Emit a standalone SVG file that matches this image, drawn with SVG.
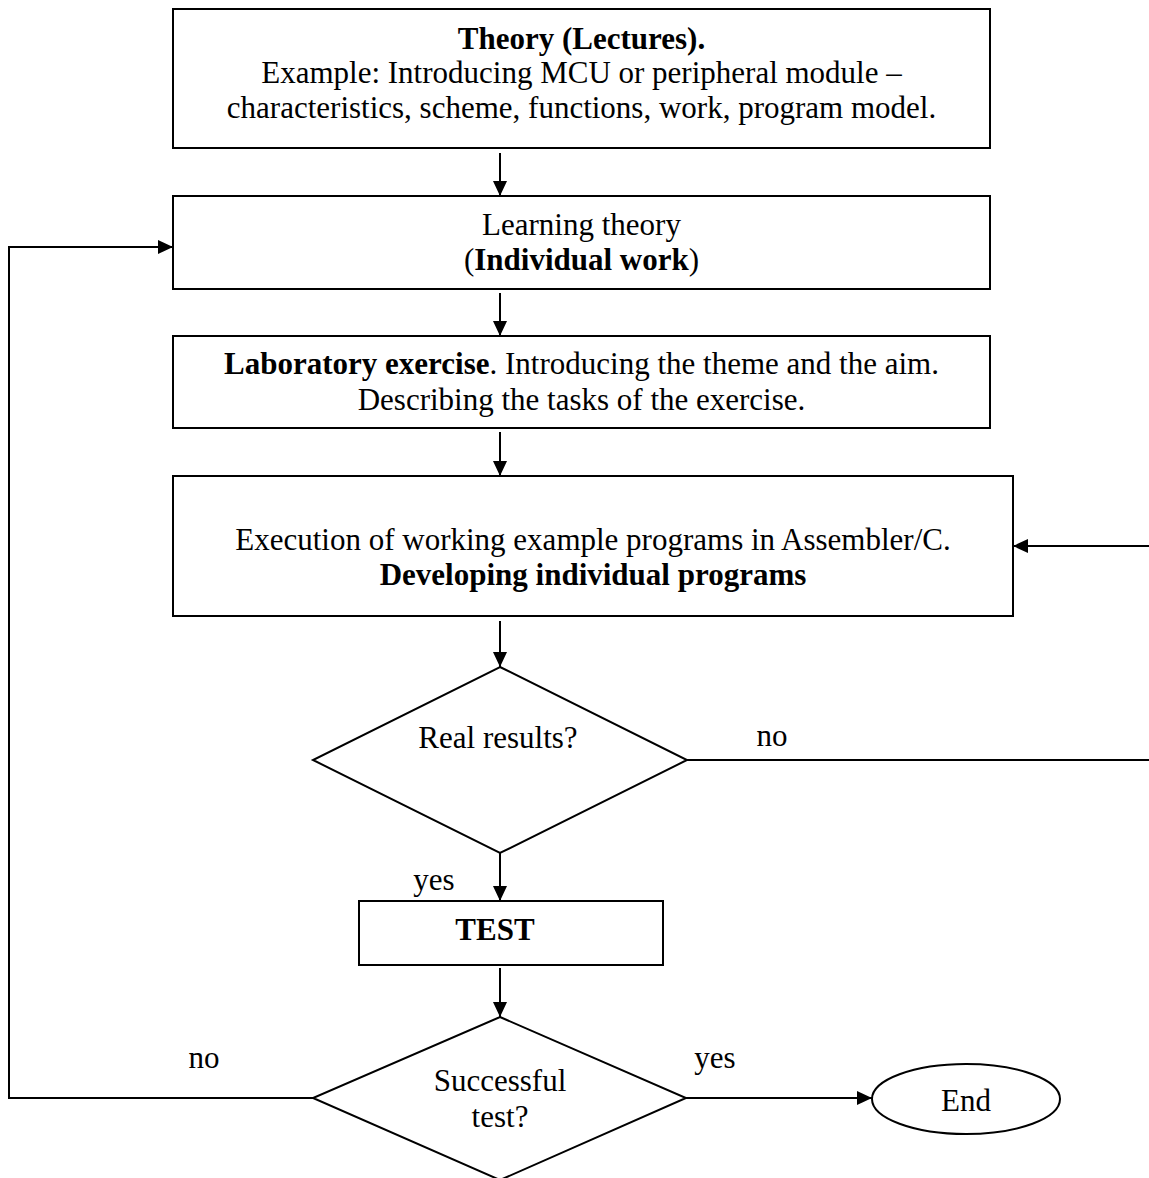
<svg xmlns="http://www.w3.org/2000/svg" width="1149" height="1178" viewBox="0 0 1149 1178">
<style>
.box{fill:#fff;stroke:#000;stroke-width:2}
.t{font-family:"Liberation Serif","Times New Roman",serif;font-size:31px;fill:#000;text-anchor:middle}
.b{font-weight:bold}
.c{fill:none;stroke:#000;stroke-width:2}
</style>
<defs>
<marker id="ah" markerUnits="userSpaceOnUse" markerWidth="15" markerHeight="14" refX="15" refY="7" orient="auto">
<path d="M0,0 L15,7 L0,14 z" fill="#000"/>
</marker>
</defs>
<rect width="1149" height="1178" fill="#fff"/>
<g id="connectors">
<line class="c" x1="500" y1="153" x2="500" y2="196" marker-end="url(#ah)"/>
<line class="c" x1="500" y1="293" x2="500" y2="336" marker-end="url(#ah)"/>
<line class="c" x1="500" y1="432" x2="500" y2="476" marker-end="url(#ah)"/>
<line class="c" x1="500" y1="621" x2="500" y2="667" marker-end="url(#ah)"/>
<line class="c" x1="500" y1="853" x2="500" y2="901" marker-end="url(#ah)"/>
<line class="c" x1="500" y1="968" x2="500" y2="1017" marker-end="url(#ah)"/>
<polyline class="c" points="687,760 1152,760 1152,546 1013,546" marker-end="url(#ah)"/>
<polyline class="c" points="313,1098 9,1098 9,247 173,247" marker-end="url(#ah)"/>
<line class="c" x1="686" y1="1098" x2="872" y2="1098" marker-end="url(#ah)"/>
<text class="t" x="772" y="746">no</text>
<text class="t" x="434" y="890">yes</text>
<text class="t" x="204" y="1068">no</text>
<text class="t" x="715" y="1068">yes</text>
</g>
<g id="theory">
<rect class="box" x="173" y="9" width="817" height="139"/>
<text class="t b" x="581.5" y="49">Theory (Lectures).</text>
<text class="t" x="581.5" y="83">Example: Introducing MCU or peripheral module –</text>
<text class="t" x="581.5" y="118">characteristics, scheme, functions, work, program model.</text>
</g>
<g id="learning">
<rect class="box" x="173" y="196" width="817" height="93"/>
<text class="t" x="581.5" y="235">Learning theory</text>
<text class="t" x="581.5" y="270">(<tspan class="b">Individual work</tspan>)</text>
</g>
<g id="lab">
<rect class="box" x="173" y="336" width="817" height="92"/>
<text class="t" x="581.5" y="374"><tspan class="b">Laboratory exercise</tspan>. Introducing the theme and the aim.</text>
<text class="t" x="581.5" y="410">Describing the tasks of the exercise.</text>
</g>
<g id="execution">
<rect class="box" x="173" y="476" width="840" height="140"/>
<text class="t" x="593" y="550">Execution of working example programs in Assembler/C.</text>
<text class="t b" x="593" y="585">Developing individual programs</text>
</g>
<g id="real">
<polygon class="box" points="500,667 687,760 500,853 313,760"/>
<text class="t" x="498" y="748">Real results?</text>
</g>
<g id="test">
<rect class="box" x="359" y="901" width="304" height="64"/>
<text class="t b" x="495" y="940">TEST</text>
</g>
<g id="success">
<polygon class="box" points="500,1017 686,1098 500,1180 313,1098"/>
<text class="t" x="500" y="1091">Successful</text>
<text class="t" x="500" y="1127">test?</text>
</g>
<g id="end">
<ellipse class="box" cx="966" cy="1099" rx="94" ry="35"/>
<text class="t" x="966" y="1111">End</text>
</g>
</svg>
